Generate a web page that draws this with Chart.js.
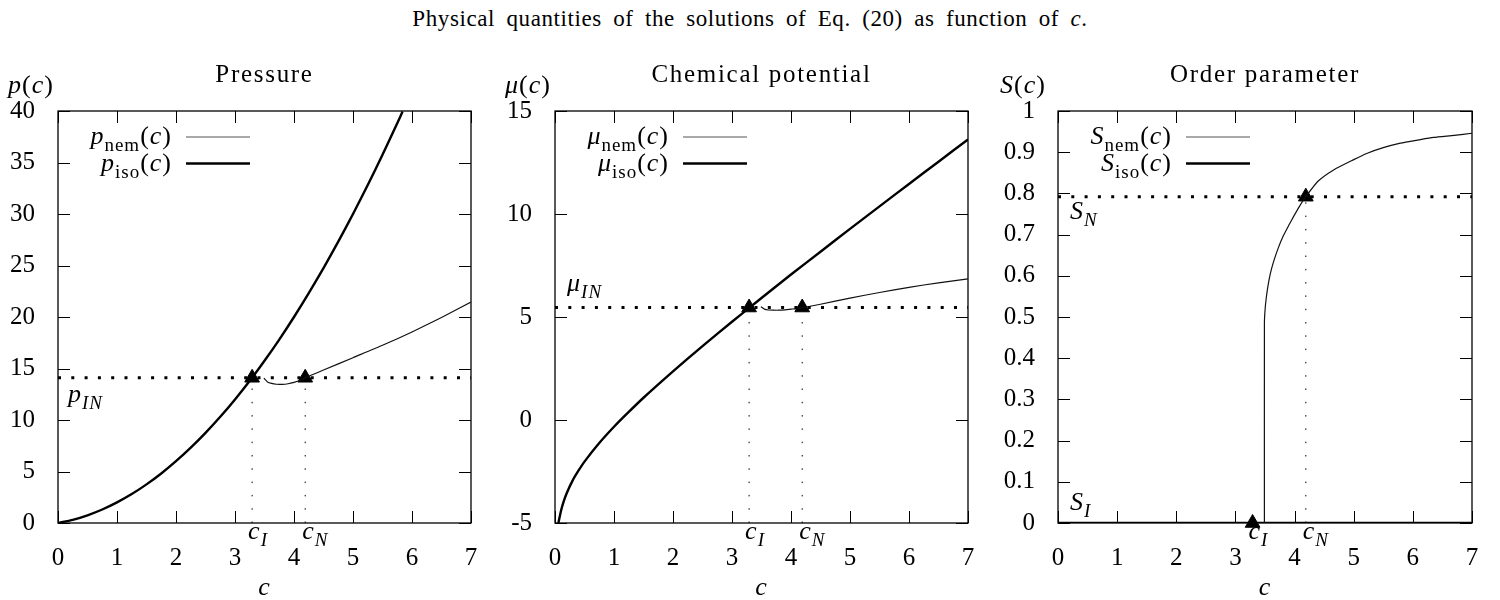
<!DOCTYPE html>
<html>
<head>
<meta charset="utf-8">
<title>Physical quantities vs c</title>
<script src="https://cdn.jsdelivr.net/npm/chart.js@4.4.1/dist/chart.umd.min.js"></script>
<style>
  body { margin: 0; background: #fff; }
  #page { position: relative; width: 1500px; height: 600px; overflow: hidden; }
  #main-title {
    position: absolute; top: 6px; left: 0; width: 1500px; text-align: center;
    font-family: 'Liberation Serif', 'DejaVu Serif', serif; font-size: 23px; color: #000;
    letter-spacing: 0.6px; word-spacing: 5px;
  }
  .panel { position: absolute; top: 0; width: 500px; height: 600px; }
</style>
</head>
<body>
<div id="page">
  <div id="main-title">Physical quantities of the solutions of Eq. (20) as function of <i>c</i>.</div>
  <div class="panel" style="left:0px"><canvas id="pressureChart" width="500" height="600"></canvas></div>
  <div class="panel" style="left:500px"><canvas id="potentialChart" width="500" height="600"></canvas></div>
  <div class="panel" style="left:1000px"><canvas id="orderChart" width="500" height="600"></canvas></div>
</div>
<script>
// tick labels
const xTicks = [0, 1, 2, 3, 4, 5, 6, 7];
const pTicks = [0, 5, 10, 15, 20, 25, 30, 35, 40];
const muTicks = [-5, 0, 5, 10, 15];
const sTicks = [0, 0.1, 0.2, 0.3, 0.4, 0.5, 0.6, 0.7, 0.8, 0.9, 1];

// coexistence values (triangles / dotted lines)
const cI = 3.29;
const cN = 4.19;
const pIN = 14.1;
const muIN = 5.46;
const sN = 0.792;

// isotropic branch
const cIsoP = [0, 0.25, 0.5, 0.75, 1, 1.25, 1.5, 1.75, 2, 2.25, 2.5, 2.75, 3, 3.29, 3.5, 3.75, 4, 4.25, 4.5, 4.75, 5, 5.25, 5.5, 5.75, 5.84];
const pIso = [0, 0.31, 0.75, 1.31, 2.0, 2.81, 3.75, 4.81, 6.0, 7.31, 8.75, 10.31, 12.0, 14.11, 15.75, 17.81, 20.0, 22.31, 24.75, 27.31, 30.0, 32.81, 35.75, 38.81, 39.95];
const cIsoMu = [0.058, 0.1, 0.15, 0.2, 0.3, 0.4, 0.5, 0.75, 1, 1.25, 1.5, 2, 2.5, 3, 3.29, 3.5, 4, 4.5, 5, 5.5, 6, 6.5, 7];
const muIso = [-5.0, -4.43, -3.93, -3.54, -2.93, -2.45, -2.02, -1.12, -0.33, 0.39, 1.08, 2.36, 3.59, 4.77, 5.44, 5.92, 7.06, 8.17, 9.28, 10.37, 11.46, 12.54, 13.62];
const cIsoS = [0, 7];
const sIso = [0, 0];

// nematic branch
const cNem = [3.49, 3.55, 3.62, 3.7, 3.8, 3.9, 4.0, 4.1, 4.19, 4.5, 5, 5.5, 6, 6.5, 7];
const pNem = [14.05, 13.7, 13.55, 13.47, 13.46, 13.52, 13.65, 13.83, 14.1, 14.85, 16.05, 17.25, 18.55, 19.95, 21.45];
const muNem = [5.5, 5.38, 5.34, 5.33, 5.33, 5.35, 5.38, 5.41, 5.45, 5.62, 5.92, 6.19, 6.44, 6.66, 6.85];
const cNemS = [3.49, 3.49, 3.5, 3.52, 3.55, 3.59, 3.64, 3.72, 3.81, 3.9, 3.98, 4.08, 4.19, 4.4, 4.66, 5.0, 5.22, 5.5, 5.79, 6.1, 6.35, 6.7, 7.0];
const sNem = [0, 0.485, 0.515, 0.545, 0.575, 0.605, 0.632, 0.666, 0.697, 0.722, 0.743, 0.768, 0.792, 0.83, 0.857, 0.882, 0.897, 0.911, 0.922, 0.93, 0.936, 0.941, 0.946];

(function() {
  const FONT = "'Liberation Serif', 'DejaVu Serif', serif";
  const BASE = 26;
  const TICK = 12;

  const pts = (xs, ys) => xs.map((x, i) => ({ x, y: ys[i] }));

  const setSpacing = (ctx, px) => {
    if ('letterSpacing' in ctx) ctx.letterSpacing = px + 'px';
  };

  // draw a run of text pieces: italic letters, roman/italic subscripts
  const drawRich = (ctx, parts, x, y, align, size, spacing) => {
    const base = size || BASE;
    const sub = Math.round(base * 0.74);
    setSpacing(ctx, spacing === undefined ? 1 : spacing);
    const fonts = parts.map(p => (p.it ? 'italic ' : '') + (p.sub ? sub : base) + 'px ' + FONT);
    const widths = parts.map((p, i) => { ctx.font = fonts[i]; return ctx.measureText(p.t).width; });
    const total = widths.reduce((s, w) => s + w, 0);
    let cx = align === 'right' ? x - total : align === 'center' ? x - total / 2 : x;
    ctx.textAlign = 'left';
    ctx.textBaseline = 'alphabetic';
    parts.forEach((p, i) => {
      ctx.font = fonts[i];
      ctx.fillText(p.t, cx, y + (p.sub ? base * 0.27 : 0));
      cx += widths[i];
    });
    setSpacing(ctx, 0);
  };

  const fn = (sym, sub) => {
    const parts = [{ t: sym, it: true }];
    if (sub) parts.push({ t: sub, sub: true });
    return parts.concat([{ t: '(' }, { t: 'c', it: true }, { t: ')' }]);
  };
  const sym = (s, sub) => [{ t: s, it: true }, { t: sub, sub: true, it: true }];

  const gnuplotDecor = {
    id: 'gnuplotDecor',
    beforeDatasetsDraw(chart, args, opts) {
      const { ctx, chartArea: a, scales: { x, y } } = chart;
      ctx.save();
      ctx.strokeStyle = '#000';
      ctx.lineWidth = 1.3;
      ctx.strokeRect(a.left, a.top, a.right - a.left, a.bottom - a.top);
      ctx.beginPath();
      xTicks.forEach(v => {
        const px = Math.round(x.getPixelForValue(v)) + 0.5;
        ctx.moveTo(px, a.bottom); ctx.lineTo(px, a.bottom - TICK);
        ctx.moveTo(px, a.top); ctx.lineTo(px, a.top + TICK);
      });
      opts.yTicks.forEach(v => {
        const py = Math.round(y.getPixelForValue(v)) + 0.5;
        ctx.moveTo(a.left, py); ctx.lineTo(a.left + TICK, py);
        ctx.moveTo(a.right, py); ctx.lineTo(a.right - TICK, py);
      });
      ctx.lineWidth = 1;
      ctx.stroke();
      ctx.restore();
    },
    afterDraw(chart, args, opts) {
      const { ctx, chartArea: a, scales: { x, y } } = chart;
      const midX = (a.left + a.right) / 2;
      ctx.save();
      ctx.fillStyle = '#000';

      // panel title, axis names
      drawRich(ctx, [{ t: opts.title }], midX, 82, 'center', 25, 1.7);
      drawRich(ctx, fn(opts.sym), opts.symX, 93, 'left');
      drawRich(ctx, [{ t: 'c', it: true }], midX, 595, 'center');

      // legend (top left, inside)
      const legX = a.left + 114;
      [[fn(opts.sym, 'nem'), 1.2, '#555'], [fn(opts.sym, 'iso'), 2.4, '#000']].forEach(([parts, lw, col], i) => {
        const ly = a.top + 26 + i * 26.5;
        drawRich(ctx, parts, legX, ly + 7, 'right');
        ctx.beginPath();
        ctx.strokeStyle = col;
        ctx.lineWidth = lw;
        ctx.moveTo(legX + 14, ly);
        ctx.lineTo(legX + 78, ly);
        ctx.stroke();
      });

      // annotations
      opts.notes.forEach(n => {
        drawRich(ctx, n.parts, x.getPixelForValue(n.x) + n.dx, y.getPixelForValue(n.y) + n.dy, 'left');
      });
      ctx.restore();
    }
  };

  const makePanel = (cfg) => {
    const canvas = document.getElementById(cfg.id);
    if (!canvas) {
      console.error('chart: canvas #' + cfg.id + ' not found');
      return;
    }
    const yMin = cfg.yTicks[0];
    const yMax = cfg.yTicks[cfg.yTicks.length - 1];
    const line = (data, width, color, extra) => Object.assign({
      data, showLine: true, borderColor: color, borderWidth: width,
      pointRadius: 0, fill: false, tension: 0.2
    }, extra || {});

    const datasets = [
      // dotted guides
      line(pts([0, 7], [cfg.level, cfg.level]), 3, '#000', { borderDash: [3, 10.3], tension: 0, clip: 4 }),
      ...cfg.drops.map(cx => line(pts([cx, cx], [yMin, cfg.level]), 1, '#000', { borderDash: [1.5, 11.8], tension: 0 })),
      line(pts(cfg.cNem, cfg.nem), 1.2, '#111'),
      line(pts(cfg.cIso, cfg.iso), 2.4, '#000'),
      {
        data: cfg.marks, showLine: false, pointStyle: 'triangle', pointRadius: 8.5,
        pointBackgroundColor: '#000', pointBorderColor: '#000', clip: 12
      }
    ];

    new Chart(canvas, {
      type: 'scatter',
      data: { datasets },
      options: {
        responsive: false,
        animation: false,
        layout: { padding: { top: 111, right: cfg.padRight, bottom: 0, left: 0 } },
        plugins: {
          legend: { display: false },
          tooltip: { enabled: false },
          gnuplotDecor: { yTicks: cfg.yTicks, title: cfg.title, sym: cfg.sym, symX: cfg.symX, notes: cfg.notes }
        },
        scales: {
          x: {
            type: 'linear', min: 0, max: 7,
            grid: { display: false }, border: { display: false },
            afterBuildTicks: s => { s.ticks = xTicks.map(v => ({ value: v })); },
            afterFit: s => { s.height = 77; },
            ticks: { font: { family: FONT, size: 25 }, color: '#000', padding: 12, maxRotation: 0, callback: v => String(v) }
          },
          y: {
            type: 'linear', min: yMin, max: yMax,
            grid: { display: false }, border: { display: false },
            afterBuildTicks: s => { s.ticks = cfg.yTicks.map(v => ({ value: v })); },
            afterFit: s => { s.width = cfg.left; },
            ticks: { font: { family: FONT, size: 25 }, color: '#000', padding: 15, callback: v => String(v) }
          }
        }
      },
      plugins: [gnuplotDecor]
    });
  };

  // c_I / c_N marks sit just above the x tick labels
  const cLabels = (yMin) => [
    { parts: sym('c', 'I'), x: cI, y: yMin, dx: -4, dy: 16 },
    { parts: sym('c', 'N'), x: cN, y: yMin, dx: -3, dy: 16 }
  ];

  document.addEventListener('DOMContentLoaded', () => {
    makePanel({
      id: 'pressureChart', title: 'Pressure', sym: 'p', symX: 8,
      yTicks: pTicks, left: 58, padRight: 29,
      level: pIN, drops: [cI, cN],
      cIso: cIsoP, iso: pIso, cNem: cNem, nem: pNem,
      marks: pts([cI, cN], [pIN, pIN]),
      notes: [{ parts: sym('p', 'IN'), x: 0, y: pIN, dx: 10, dy: 24 }].concat(cLabels(0))
    });

    makePanel({
      id: 'potentialChart', title: 'Chemical potential', sym: 'μ', symX: 5,
      yTicks: muTicks, left: 55, padRight: 32,
      level: muIN, drops: [cI, cN],
      cIso: cIsoMu, iso: muIso, cNem: cNem, nem: muNem,
      marks: pts([cI, cN], [muIN, muIN]),
      notes: [{ parts: sym('μ', 'IN'), x: 0, y: muIN, dx: 12, dy: -17 }].concat(cLabels(-5))
    });

    makePanel({
      id: 'orderChart', title: 'Order parameter', sym: 'S', symX: 0,
      yTicks: sTicks, left: 58, padRight: 28,
      level: sN, drops: [cN],
      cIso: cIsoS, iso: sIso, cNem: cNemS, nem: sNem,
      marks: pts([cI, cN], [0, sN]),
      notes: [
        { parts: sym('S', 'N'), x: 0, y: sN, dx: 12, dy: 22 },
        { parts: sym('S', 'I'), x: 0, y: 0, dx: 12, dy: -13 }
      ].concat(cLabels(0))
    });
  });
})();
</script>
</body>
</html>
